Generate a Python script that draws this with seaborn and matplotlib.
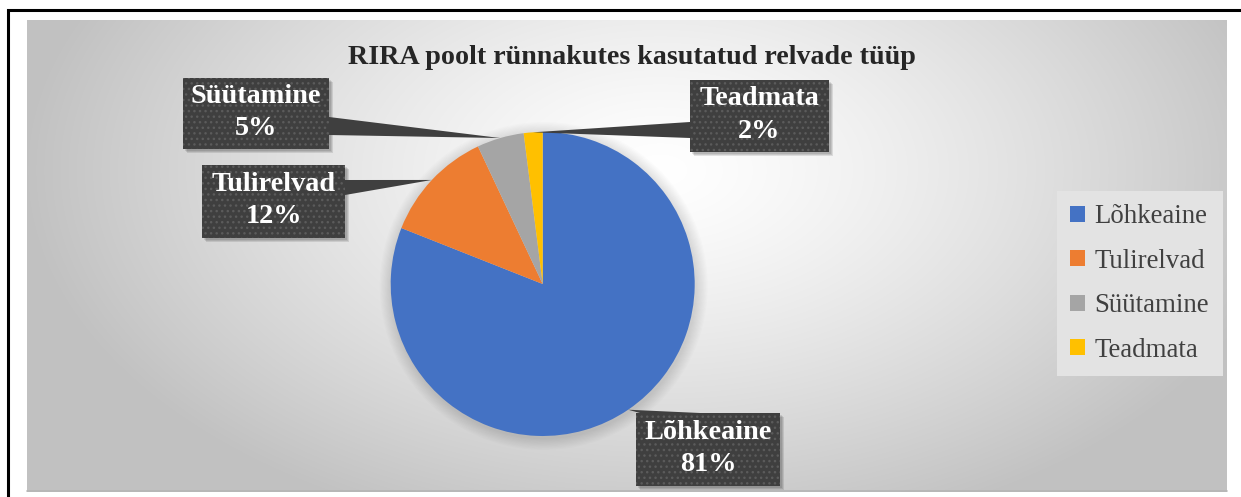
# RIRA relvade tüüp - pie chart with callout labels
import numpy as np
import matplotlib
matplotlib.use("Agg")
import matplotlib.pyplot as plt
from matplotlib.patches import Rectangle, Polygon, Circle
import seaborn as sns

# data
categories = ["Lõhkeaine", "Tulirelvad", "Süütamine", "Teadmata"]
shares = [81, 12, 5, 2]
title = "RIRA poolt rünnakutes kasutatud relvade tüüp"

sns.set_theme(style="white")
plt.rcParams["font.family"] = ["Liberation Serif", "DejaVu Serif"]

colors = ["#4472C4", "#ED7D31", "#A5A5A5", "#FFC000"]

W, H = 1241, 497
fig = plt.figure(figsize=(W / 100, H / 100), dpi=100)
ax = fig.add_axes([0, 0, 1, 1])

def Y(py):
    # top-down pixel -> axes y
    return H - py

# background gradient of the chart area
x0, x1, y0, y1 = 27, 1227, 20, 492
gx = np.arange(x0, x1)
gy = np.arange(y0, y1)
XX, YY = np.meshgrid(gx, gy)
d = np.sqrt(((XX - 660) / 640.0) ** 2 + ((YY - 170) / 380.0) ** 2)
g = 255 - 62 * np.clip(d, 0, 1) ** 1.3
img = np.dstack([g, g, g]).astype(np.uint8)
ax.imshow(img, extent=(x0, x1, Y(y1), Y(y0)), zorder=0, interpolation="bilinear")
ax.plot([x0, x1], [Y(y1) + 1, Y(y1) + 1], color="#b5b5b5", lw=1.2, zorder=1)

# outer black frame (left + top)
ax.plot([8, 8, W], [0, Y(10), Y(10)], color="black", lw=2.2, zorder=5,
        solid_capstyle="butt", solid_joinstyle="miter")

# pie
cx, cy, r = 542.7, Y(284), 152
for k in range(10):
    ax.add_patch(Circle((cx + 1, cy - 2), r + 12 - k * 1.2, color="black",
                        alpha=0.012, lw=0, zorder=1.5))
wedges, _ = ax.pie(shares, colors=colors, startangle=90, counterclock=False,
                   center=(cx, cy), radius=r,
                   wedgeprops=dict(linewidth=0, zorder=2))

# callout boxes: (left, top, right, bottom) in pixels, pointer base points
boxes = {
    "Lõhkeaine": ((636, 413, 780, 486), [(640, 413), (700, 413)]),
    "Tulirelvad": ((202, 165, 345, 238), [(345, 180), (345, 195)]),
    "Süütamine": ((183, 78, 329, 149), [(329, 117), (329, 135)]),
    "Teadmata": ((690, 80, 829, 152), [(690, 122), (690, 138)]),
}
box_col = "#3f3f3f"
for w, name, val in zip(wedges, categories, shares):
    (bl, bt, br, bb), base = boxes[name]
    th = np.deg2rad((w.theta1 + w.theta2) / 2)
    tip = (cx + r * np.cos(th), cy + r * np.sin(th))
    pts = [tip] + [(px, Y(py)) for px, py in base]
    # shadow
    for s in range(3):
        ax.add_patch(Rectangle((bl + 2 + s, Y(bb) - 2 - s), br - bl, bb - bt,
                               color="black", alpha=0.10, lw=0, zorder=3))
    ax.add_patch(Polygon(pts, closed=True, facecolor=box_col, edgecolor="none",
                         zorder=4))
    ax.add_patch(Rectangle((bl, Y(bb)), br - bl, bb - bt, facecolor=box_col,
                           edgecolor="#5b5b5b", hatch="...", lw=0, zorder=4))
    ax.text((bl + br) / 2, Y((bt + bb) / 2) + 1, f"{name}\n{val}%", color="white",
            fontsize=20.3, fontweight="bold", ha="center", va="center",
            linespacing=1.42, zorder=6)

# title
ax.text(632, Y(57), title, fontsize=20.2, fontweight="bold", color="#262626",
        ha="center", va="center", zorder=6)

# legend
leg = ax.legend(wedges, categories, loc="upper left",
                bbox_to_anchor=(1057, Y(191)), bbox_transform=ax.transData,
                fontsize=19.4, frameon=True, fancybox=False, framealpha=1,
                facecolor="#e3e3e3", edgecolor="none", handlelength=0.55,
                handleheight=0.55, handletextpad=0.35, labelspacing=0.72,
                borderpad=0.5, borderaxespad=0)
for t in leg.get_texts():
    t.set_color("#404040")
leg.set_zorder(6)

ax.set_xlim(0, W)
ax.set_ylim(0, H)
ax.set_aspect("auto")
ax.axis("off")

fig.savefig("out.png", dpi=100, facecolor="white")
